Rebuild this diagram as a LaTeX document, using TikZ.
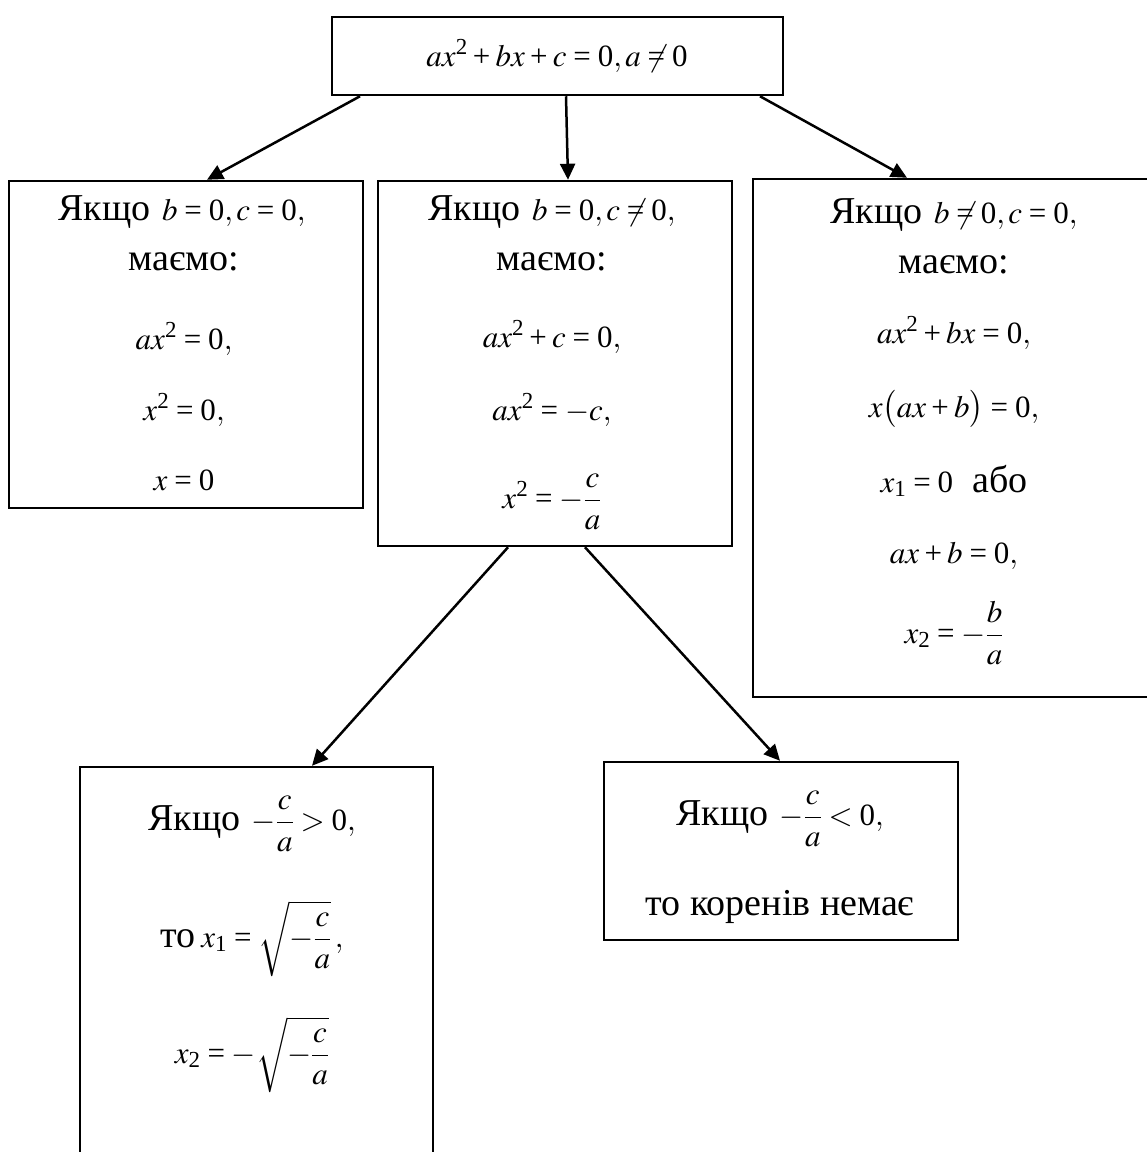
\documentclass[tikz,border=0pt]{standalone}
\usepackage{amsmath}
\usepackage{mathptmx}
\usepackage[no-math]{fontspec}
\setmainfont{Liberation Serif}[NFSSFamily=libser]
\DeclareSymbolFont{operators}{TU}{libser}{m}{n}
\usetikzlibrary{arrows.meta}
\newcommand\txsize{\fontsize{38}{44}\selectfont}
\newcommand\mth{\fontsize{31}{38}\selectfont}
\medmuskip=3mu plus 2mu minus 2mu
\thickmuskip=4mu plus 3mu minus 1mu
\begin{document}
\begin{tikzpicture}[x=1pt,y=-1pt,
  box/.style={draw,line width=2.5pt,rectangle,inner sep=0pt,fill=none},
  txt/.style={anchor=base,inner sep=0pt,font=\txsize},
  arr/.style={line width=2.5pt,-{Triangle[length=16pt,width=15pt]}}]
\useasboundingbox (0,0) rectangle (1147,1152);
% boxes
\node[box,minimum width=451pt,minimum height=78pt] (top) at (557.5,56) {};
\node[box,minimum width=354pt,minimum height=327pt] (bL) at (186,344.5) {};
\node[box,minimum width=354pt,minimum height=365pt] (bM) at (555,363.5) {};
\node[box,minimum width=407pt,minimum height=518pt] (bR) at (956.5,438) {};
\node[box,minimum width=353pt,minimum height=403pt] (bBL) at (256.5,968.5) {};
\node[box,minimum width=354pt,minimum height=178pt] (bBR) at (781,851) {};
% top text
\node[txt] (t0) at (557,66) {\mth$ax^2+bx+c=0,a\neq 0$};
% left box
\node[txt] (l1) at (182,220) {Якщо\hspace{0.3em}\mth$b=0,c=0,$};
\node[txt] (l2) at (184,270) {маємо:};
\node[txt] (l3) at (184,349) {\mth$ax^2=0,$};
\node[txt] (l4) at (184,420) {\mth$x^2=0,$};
\node[txt] (l5) at (184,490) {\mth$x=0$};
% middle box
\node[txt] (m1) at (552,220) {Якщо\hspace{0.3em}\mth$b=0,c\neq 0,$};
\node[txt] (m2) at (552,270) {маємо:};
\node[txt] (m3) at (552,347) {\mth$ax^2+c=0,$};
\node[txt] (m4) at (552,420) {\mth$ax^2=-c,$};
\node[txt] (m5) at (552,508) {\mth$x^2=-\dfrac{c}{a}$};
% right box
\node[txt] (r1) at (954,223) {Якщо\hspace{0.3em}\mth$b\neq 0,c=0,$};
\node[txt] (r2) at (954,273) {маємо:};
\node[txt] (r3) at (954,343) {\mth$ax^2+bx=0,$};
\node[txt] (r4) at (954,417) {\mth$x\bigl(ax+b\bigr)=0,$};
\node[txt] (r5) at (954,492) {{\mth$x_1=0$}\hspace{0.5em}або};
\node[txt] (r6) at (954,563) {\mth$ax+b=0,$};
\node[txt] (r7) at (954,643) {\mth$x_2=-\dfrac{b}{a}$};
% bottom left
\node[txt] (bl1) at (252,830) {Якщо\hspace{0.3em}\mth$-\dfrac{c}{a}>0,$};
\node[txt] (bl2) at (252,947) {то\hspace{0.15em}\mth$x_1=\sqrt{-\dfrac{c}{a}}\,,$};
\node[txt] (bl3) at (252,1063) {\mth$x_2=-\sqrt{-\dfrac{c}{a}}$};
% bottom right
\node[txt] (br1) at (780,825) {Якщо\hspace{0.3em}\mth$-\dfrac{c}{a}<0,$};
\node[txt] (br2) at (780,915) {то коренів немає};
% arrows
\draw[arr] ([xshift=-197.5pt]top.south) -- ([xshift=21pt]bL.north);
\draw[arr] ([xshift=8.5pt]top.south) -- ([xshift=13pt]bM.north);
\draw[arr] ([xshift=202.5pt]top.south) -- ([xshift=-49.5pt]bR.north);
\draw[arr] ([xshift=-47pt]bM.south) -- ([xshift=55.5pt]bBL.north);
\draw[arr] ([xshift=30pt]bM.south) -- ([xshift=-1pt]bBR.north);
\end{tikzpicture}
\end{document}
